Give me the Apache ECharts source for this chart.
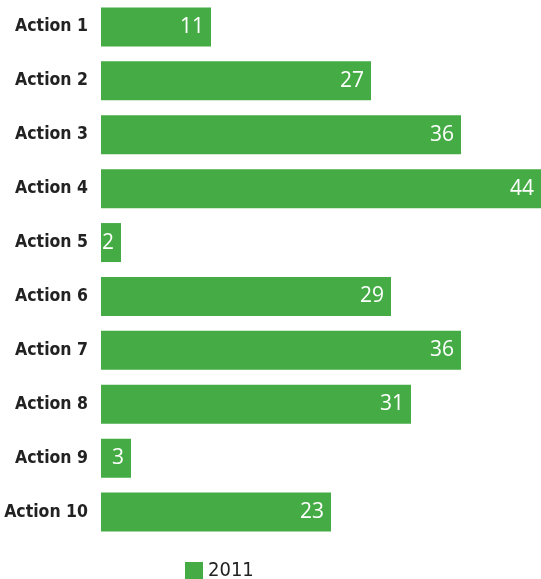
<!DOCTYPE html>
<html><head><meta charset="utf-8">
<script src="https://cdn.jsdelivr.net/npm/echarts@6/dist/echarts.min.js"></script>
<style>html,body{margin:0;padding:0;background:#fff}#c{width:541px;height:579px}</style>
</head><body><div id="c"></div>
<script>
const categories = ['Action 1','Action 2','Action 3','Action 4','Action 5','Action 6','Action 7','Action 8','Action 9','Action 10'];
const values2011 = [11, 27, 36, 44, 2, 29, 36, 31, 3, 23];
const seriesName = '2011';
const chart = echarts.init(document.getElementById('c'));
chart.setOption({
  animation: false,
  grid: {left: 101, right: 0, top: 0, height: 539, containLabel: false, outerBoundsMode: 'none'},
  legend: {
    data: [seriesName], left: 185, top: 561, padding: 0, itemWidth: 18, itemHeight: 18, itemGap: 10,
    icon: 'rect',
    textStyle: {fontFamily: 'DejaVu Sans Condensed', fontSize: 20, color: '#222'}
  },
  xAxis: {type: 'value', min: 0, max: 44, show: false},
  yAxis: {
    type: 'category', data: categories, inverse: true,
    axisLine: {show: false}, axisTick: {show: false},
    axisLabel: {margin: 13, fontFamily: 'DejaVu Sans Condensed', fontWeight: 'bold', fontSize: 17.5, color: '#222'}
  },
  series: [{
    name: seriesName, type: 'bar', data: values2011, barWidth: 39,
    itemStyle: {color: '#45AC45'},
    label: {show: true, position: 'insideRight', distance: 7, color: '#fff', fontFamily: 'Open Sans', fontSize: 21}
  }]
});
</script></body></html>
